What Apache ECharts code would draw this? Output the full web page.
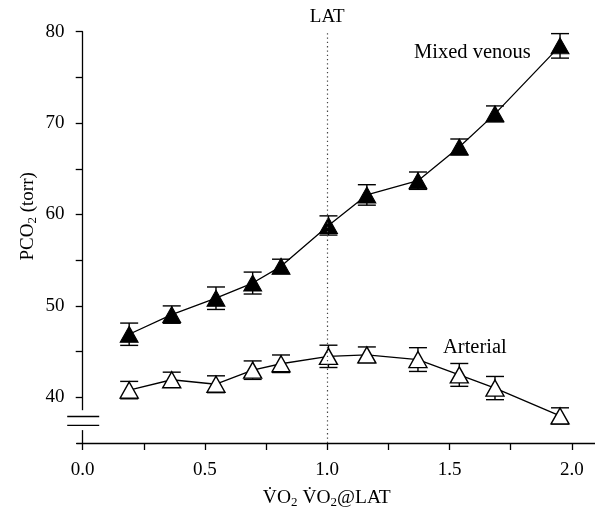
<!DOCTYPE html>
<html><head><meta charset="utf-8">
<script src="https://cdn.jsdelivr.net/npm/echarts@6/dist/echarts.min.js"></script>
<style>html,body{margin:0;padding:0;background:#fff}#c{width:595px;height:514px}</style>
</head><body><div id="c"></div>
<script>
// ---- data ----
const vo2Ratio = [0.19, 0.364, 0.545, 0.695, 0.811, 1.005, 1.162, 1.371, 1.540, 1.686, 1.952];
const mixedVenous = [46.9, 49.05, 50.84, 52.5, 54.33, 58.8, 62.14, 63.7, 67.39, 71.01, 78.45];
const mixedVenousErr = [1.22, 0.95, 1.23, 1.2, 0.78, 1.05, 1.12, 0.95, 0.87, 0.87, 1.34];
const arterial = [40.79, 41.92, 41.43, 42.97, 43.67, 44.48, 44.64, 44.13, 42.45, 41.01, 37.96];
const arterialErr = [0.95, 0.83, 0.92, 1.01, 0.96, 1.22, 0.87, 1.3, 1.25, 1.27, 0.89];
const xTicks = [0, 0.25, 0.5, 0.75, 1.0, 1.25, 1.5, 1.75, 2.0];
const xLabels = [0, 0.5, 1.0, 1.5, 2.0];
const yTicks = [40, 45, 50, 55, 60, 65, 70, 75, 80];
const yLabels = [40, 50, 60, 70, 80];
const latValue = 1.0;
const breakGap = [38.59, 36.41];
const breakLines = [37.9, 36.92];

const FONT = '"Liberation Serif", "Times New Roman", serif';
const chart = echarts.init(document.getElementById('c'), null, {renderer: 'canvas'});

function errRender(params, api) {
  const x = api.value(0), lo = api.value(1), hi = api.value(2);
  const t = api.coord([x, hi]), b = api.coord([x, lo]);
  const hw = 9;
  const st = {stroke: '#000', lineWidth: 1.4};
  return {type: 'group', children: [
    {type: 'line', shape: {x1: t[0], y1: t[1], x2: b[0], y2: b[1]}, style: st},
    {type: 'line', shape: {x1: t[0] - hw, y1: t[1], x2: t[0] + hw, y2: t[1]}, style: st},
    {type: 'line', shape: {x1: b[0] - hw, y1: b[1], x2: b[0] + hw, y2: b[1]}, style: st}
  ]};
}

const mvPts = vo2Ratio.map((x, i) => [x, mixedVenous[i]]);
const arPts = vo2Ratio.map((x, i) => [x, arterial[i]]);
const mvErr = vo2Ratio.map((x, i) => [x, mixedVenous[i] - mixedVenousErr[i], mixedVenous[i] + mixedVenousErr[i]]);
const arErr = vo2Ratio.map((x, i) => [x, arterial[i] - arterialErr[i], arterial[i] + arterialErr[i]]);

const subStyle = {fontSize: 13, fontFamily: FONT, color: '#000', padding: [9, 0, 0, 0]};

chart.setOption({
  animation: false,
  backgroundColor: '#fff',
  grid: {left: 76.6, right: 0, top: 31.7, bottom: 67.5},
  xAxis: {
    type: 'value', min: -0.025, max: 2.095,
    axisLine: {lineStyle: {color: '#000', width: 1.3}},
    axisTick: {show: true, inside: false, length: 7, customValues: xTicks, lineStyle: {color: '#000', width: 1.3}},
    axisLabel: {customValues: xLabels, formatter: v => v.toFixed(1), fontFamily: FONT, fontSize: 19, color: '#000', margin: 18},
    splitLine: {show: false},
    name: 'V\u0307O{sub|2} V\u0307O{sub|2}@LAT',
    nameLocation: 'middle', nameGap: 44, nameMoveOverlap: false,
    nameTextStyle: {fontFamily: FONT, fontSize: 19.5, color: '#000', padding: [0, 18, 0, 0], rich: {sub: subStyle}}
  },
  yAxis: {
    type: 'value', min: 35, max: 80,
    axisLine: {onZero: true, lineStyle: {color: '#000', width: 1.3}},
    axisTick: {show: true, inside: false, length: 7, customValues: yTicks, lineStyle: {color: '#000', width: 1.3}},
    axisLabel: {customValues: yLabels, fontFamily: FONT, fontSize: 19, color: '#000', margin: 12},
    splitLine: {show: false},
    name: 'PCO{sub|2} (torr)',
    nameLocation: 'middle', nameGap: 38, nameMoveOverlap: false,
    nameTextStyle: {fontFamily: FONT, fontSize: 19, color: '#000', padding: [0, 0, 0, 42], rich: {sub: subStyle}}
  },
  series: [
    {type: 'custom', renderItem: errRender, data: mvErr, encode: {x: 0, y: [1, 2]}, z: 1, silent: true},
    {type: 'custom', renderItem: errRender, data: arErr, encode: {x: 0, y: [1, 2]}, z: 1, silent: true},
    {
      type: 'line', data: mvPts, z: 3, symbol: 'triangle', symbolSize: [18, 16], showSymbol: true,
      lineStyle: {color: '#000', width: 1.3}, itemStyle: {color: '#000', borderColor: '#000', borderWidth: 1},
      markLine: {
        silent: true, symbol: 'none',
        lineStyle: {color: '#444', type: [1.3, 3], width: 1.2},
        label: {show: true, position: 'end', formatter: 'LAT', fontFamily: FONT, fontSize: 19, color: '#000', distance: 5},
        data: [{xAxis: latValue}]
      }
    },
    {
      type: 'line', data: arPts, z: 3, symbol: 'triangle', symbolSize: [18, 16], showSymbol: true,
      lineStyle: {color: '#000', width: 1.3}, itemStyle: {color: '#fff', borderColor: '#000', borderWidth: 1.4}
    }
  ]
});

function px(v) { return chart.convertToPixel({gridIndex: 0}, [0, v]); }
const g1 = px(breakGap[0]), g2 = px(breakGap[1]);
const l1 = px(breakLines[0]), l2 = px(breakLines[1]);
const ax = g1[0];
chart.setOption({
  graphic: [
    {type: 'rect', z: 100, shape: {x: ax - 3, y: g1[1], width: 6, height: g2[1] - g1[1]}, style: {fill: '#fff'}},
    {type: 'line', z: 101, shape: {x1: ax - 15.5, y1: l1[1], x2: ax + 16.5, y2: l1[1]}, style: {stroke: '#000', lineWidth: 1.3}},
    {type: 'line', z: 101, shape: {x1: ax - 15.5, y1: l2[1], x2: ax + 16.5, y2: l2[1]}, style: {stroke: '#000', lineWidth: 1.3}},
    {type: 'text', z: 101, x: 414, y: 53, style: {text: 'Mixed venous', font: '20.5px ' + FONT, fill: '#000', verticalAlign: 'middle'}},
    {type: 'text', z: 101, x: 443, y: 348, style: {text: 'Arterial', font: '20.5px ' + FONT, fill: '#000', verticalAlign: 'middle'}}
  ]
});
</script>
</body></html>
